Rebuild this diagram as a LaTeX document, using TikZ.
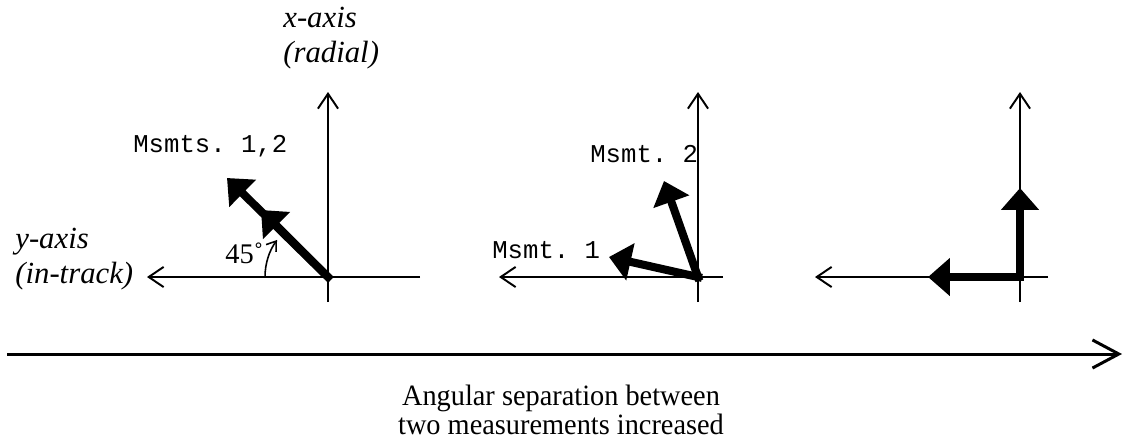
\documentclass[tikz,border=0pt]{standalone}
\usepackage{fontspec}
\setmainfont{Liberation Serif}
\setmonofont{Liberation Mono}
\usetikzlibrary{arrows.meta}

\tikzset{
  axis/.style={line width=1.1pt, -{Straight Barb[length=8.5pt,width=11.5pt]}},
  msmt/.style={line width=4.6pt, line cap=rect, -{Triangle[length=12.5pt,width=21pt]}},
  angarc/.style={line width=0.9pt, -{Straight Barb[length=5pt,width=7pt]}},
  axlabel/.style={font=\fontsize{17.5}{20}\selectfont\itshape, inner sep=0pt, anchor=base west},
  msmtlabel/.style={font=\fontsize{14.6}{16}\ttfamily, inner sep=0pt, anchor=base west},
  caption/.style={font=\fontsize{16.8}{15}\selectfont, inner sep=0pt, anchor=base},
}
\newcommand{\narrow}[1]{\scalebox{0.96}[1]{#1}}

\begin{document}
\begin{tikzpicture}[x=0.02cm, y=-0.02cm]
\useasboundingbox (0,0) rectangle (1126,440);

% same pair of axes three times
\coordinate (o1) at (328,277);
\coordinate (o2) at (698,277);
\coordinate (o3) at (1020,277);
\foreach \o/\l/\r in {o1/181/92, o2/199/25, o3/205/28} {
  \draw[axis] (\o) ++(0,25) -- ++(0,-210);
  \draw[axis] (\o) ++(\r,0) -- ++({-\r-\l},0);
}

% same direction
\coordinate (m1a) at (261,210);
\coordinate (m1b) at (227,178);
\draw[msmt] (o1) -- (m1b);
\draw[msmt] (o1) -- (m1a);
\draw[angarc] ([shift=(180:63)]o1) arc[start angle=180, end angle=216, radius=63];
\node[msmtlabel] (l12) at (133,152) {Msmts. 1,2};
\node[font=\fontsize{16.2}{18}\selectfont, inner sep=0pt, anchor=base west] (ang) at (225,263) {45˚};
\node[axlabel] (xax) at (283,27) {x-axis};
\node[axlabel] (xax2) at (283,62) {(radial)};
\node[axlabel] (yax) at (15,248) {y-axis};
\node[axlabel] (yax2) at (15,283) {(in-track)};

% separated
\coordinate (m2a) at (609,257);
\coordinate (m2b) at (664,181);
\draw[msmt] (o2) -- (m2a);
\draw[msmt] (o2) -- (m2b);
\node[msmtlabel] (l1) at (492,258) {Msmt. 1};
\node[msmtlabel] (l2) at (590,162) {Msmt. 2};

% orthogonal
\coordinate (m3a) at (928,277);
\coordinate (m3b) at (1020,188);
\draw[msmt] (o3) -- (m3a);
\draw[msmt] (o3) -- (m3b);

% bottom arrow
\coordinate (s0) at (7,354);
\coordinate (s1) at (1122,354);
\draw[line width=1.7pt, -{Straight Barb[length=15pt,width=16pt]}] (s0) -- (s1);
\node[caption] (cap1) at (561,405) {\narrow{Angular separation between}};
\node[caption] (cap2) at (561,434) {\narrow{two measurements increased}};
\end{tikzpicture}
\end{document}
